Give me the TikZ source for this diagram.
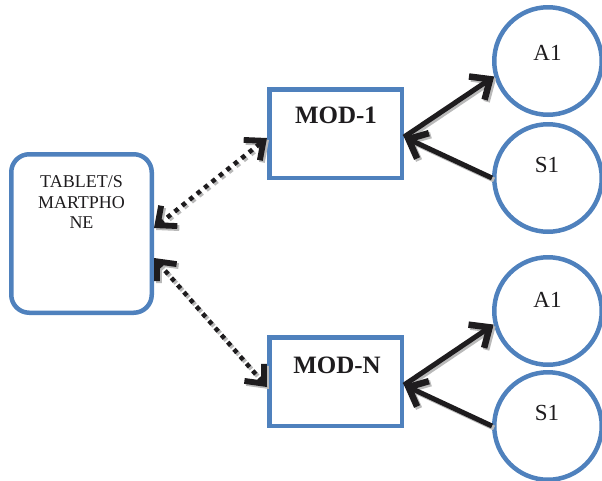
\documentclass[tikz,border=0pt]{standalone}
\usepackage{fontspec}
\setmainfont{Liberation Serif}
\usetikzlibrary{arrows.meta,calc}
\definecolor{officeblue}{RGB}{79,129,189}
\definecolor{inkblack}{RGB}{30,28,30}
\begin{document}
\begin{tikzpicture}[x=1pt,y=-1pt,
  boxshape/.style={draw=officeblue,line width=4.5pt,fill=white,inner sep=0pt},
  circshape/.style={draw=officeblue,line width=4.5pt,fill=white,circle,minimum size=107.5pt,inner sep=0pt},
  dotarrow/.style={draw=inkblack,line width=4.5pt,dash pattern=on 4.5pt off 5pt,
    {Straight Barb[length=15pt,width=26pt,line width=0pt 1.3]}-{Straight Barb[length=15pt,width=26pt,line width=0pt 1.3]}},
  solidarrow/.style={draw=inkblack,line width=5pt,-{Straight Barb[length=16pt,width=28pt,line width=0pt 1.3]}},
  shadowed/.style={draw=gray!55,transform canvas={xshift=2pt,yshift=-2pt}},
  tabtext/.style={font=\fontsize{18}{20.5}\selectfont,align=center,inner sep=0pt,text=inkblack},
  circtext/.style={font=\fontsize{23}{26}\selectfont,inner sep=0pt,text=inkblack},
  modtext/.style={font=\fontsize{25}{28}\selectfont\bfseries,inner sep=0pt,text=inkblack}
]
\clip (0,0) rectangle (602,480);
\useasboundingbox (0,0) rectangle (602,480);

% nodes
\node[boxshape,rounded corners=18pt,minimum width=140.5pt,minimum height=158.5pt] (tab) at (81.5,233.5) {};
\node[tabtext] (tabt) at (81.5,202.5) {TABLET/S\\MARTPHO\\NE};

\node[boxshape,minimum width=132.5pt,minimum height=88.5pt] (mod1) at (335.5,133.5) {};
\node[modtext] (mod1t) at (336,115) {MOD-1};

\node[boxshape,minimum width=132.5pt,minimum height=88.5pt] (modn) at (335.5,381.5) {};
\node[modtext] (modnt) at (337,365) {MOD-N};

\node[circshape] (a1c) at (548,61) {};
\node[circtext] (a1t) at (547.5,53) {A1};
\node[circshape] (s1c) at (548,178) {};
\node[circtext] (s1t) at (547,165) {S1};
\node[circshape] (a2c) at (548,311) {};
\node[circtext] (a2t) at (547.5,300) {A1};
\node[circshape] (s2c) at (548,426) {};
\node[circtext] (s2t) at (547,413) {S1};

% connection points
\coordinate (tabup) at ($(tab.east)+(0,-5.5)$);
\coordinate (tablo) at ($(tab.east)+(0,24.5)$);
\coordinate (mod1w) at ($(mod1.west)+(0,4.5)$);
\coordinate (modnw) at ($(modn.west)+(0,5.5)$);
\coordinate (mod1e) at ($(mod1.east)+(0,3.5)$);
\coordinate (modne) at ($(modn.east)+(0,3.5)$);

% shadows
\draw[dotarrow,shadowed] (tabup) -- (mod1w);
\draw[dotarrow,shadowed] (tablo) -- (modnw);
\draw[solidarrow,shadowed] (mod1e) -- (a1c.196);
\draw[solidarrow,shadowed] (s1c.west) -- (mod1e);
\draw[solidarrow,shadowed] (modne) -- (a2c.194);
\draw[solidarrow,shadowed] (s2c.west) -- (modne);

% connectors
\draw[dotarrow] (tabup) -- (mod1w);
\draw[dotarrow] (tablo) -- (modnw);
\draw[solidarrow] (mod1e) -- (a1c.196);
\draw[solidarrow] (s1c.west) -- (mod1e);
\draw[solidarrow] (modne) -- (a2c.194);
\draw[solidarrow] (s2c.west) -- (modne);
\end{tikzpicture}
\end{document}
